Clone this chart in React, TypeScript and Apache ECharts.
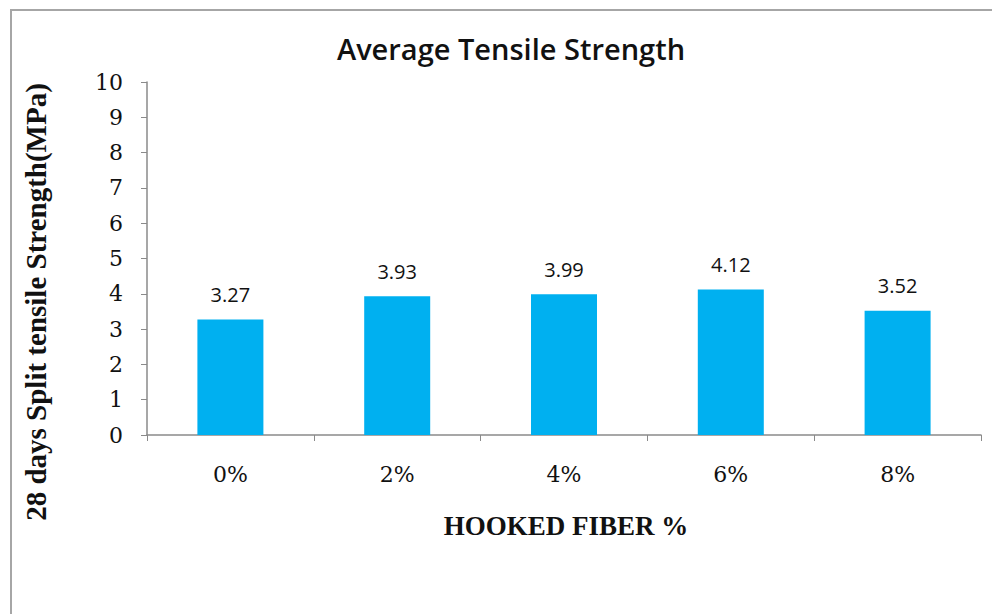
import React, { useEffect, useRef } from "react";
import * as echarts from "echarts";

// Fibre dosage categories and the 28-day split tensile strength (MPa)
const fiberContent = ["0%", "2%", "4%", "6%", "8%"];
const tensileStrength = [3.27, 3.93, 3.99, 4.12, 3.52];

const chartTitle = "Average Tensile Strength";
const xAxisTitle = "HOOKED FIBER %";
const yAxisTitle = "28 days Split tensile Strength(MPa)";

const SERIF = "'Liberation Serif', 'Times New Roman', serif";
const TICK_SERIF = "'DejaVu Serif', serif";
const SANS = "'Open Sans', 'Noto Sans', sans-serif";
const AXIS_GREY = "#8a8a8a";

export default function App() {
  const ref = useRef<HTMLDivElement>(null);

  useEffect(() => {
    if (!ref.current) return;
    const chart = echarts.init(ref.current, null, { renderer: "svg" });
    chart.setOption({
      animation: false,
      backgroundColor: "#ffffff",
      title: {
        text: chartTitle,
        left: 506,
        top: 29,
        textAlign: "center",
        textStyle: {
          fontFamily: SANS,
          fontSize: 29,
          fontWeight: 600,
          color: "#111111",
        },
      },
      graphic: [
        {
          type: "rect",
          shape: { x: 11, y: 10, width: 1000, height: 700 },
          style: { fill: "none", stroke: "#a6a6a6", lineWidth: 2 },
          silent: true,
          z: -1,
        },
        {
          // vertical axis title
          type: "text",
          x: 36,
          y: 302,
          rotation: Math.PI / 2,
          style: {
            text: yAxisTitle,
            fontFamily: SERIF,
            fontSize: 29,
            fontWeight: "bold",
            fill: "#111111",
            align: "center",
            verticalAlign: "middle",
          },
        },
        {
          // horizontal axis title
          type: "text",
          x: 566,
          y: 526,
          style: {
            text: xAxisTitle,
            fontFamily: SERIF,
            fontSize: 27,
            fontWeight: "bold",
            fill: "#111111",
            align: "center",
            verticalAlign: "middle",
          },
        },
      ],
      grid: { left: 147, right: 11, top: 82, bottom: 179 },
      xAxis: {
        type: "category",
        data: fiberContent,
        axisLine: { lineStyle: { color: AXIS_GREY, width: 1.5 } },
        axisTick: { show: true, length: 6, lineStyle: { color: AXIS_GREY } },
        axisLabel: {
          margin: 28,
          fontFamily: TICK_SERIF,
          fontSize: 22,
          color: "#111111",
        },
      },
      yAxis: {
        type: "value",
        min: 0,
        max: 10,
        interval: 1,
        axisLine: { show: true, lineStyle: { color: AXIS_GREY, width: 1.5 } },
        axisTick: { show: true, length: 6, lineStyle: { color: AXIS_GREY } },
        splitLine: { show: false },
        axisLabel: {
          margin: 24,
          fontFamily: TICK_SERIF,
          fontSize: 22,
          color: "#111111",
        },
      },
      series: [
        {
          type: "bar",
          data: tensileStrength,
          barWidth: 66,
          itemStyle: { color: "#00b0f0" },
          label: {
            show: true,
            position: "top",
            distance: 15,
            fontFamily: SANS,
            fontSize: 20,
            color: "#111111",
            formatter: (p: any) => p.value.toFixed(2),
          },
        },
      ],
    });
    return () => chart.dispose();
  }, []);

  return (
    <div
      ref={ref}
      style={{ position: "absolute", left: 0, top: 0, width: 992, height: 614 }}
    />
  );
}
